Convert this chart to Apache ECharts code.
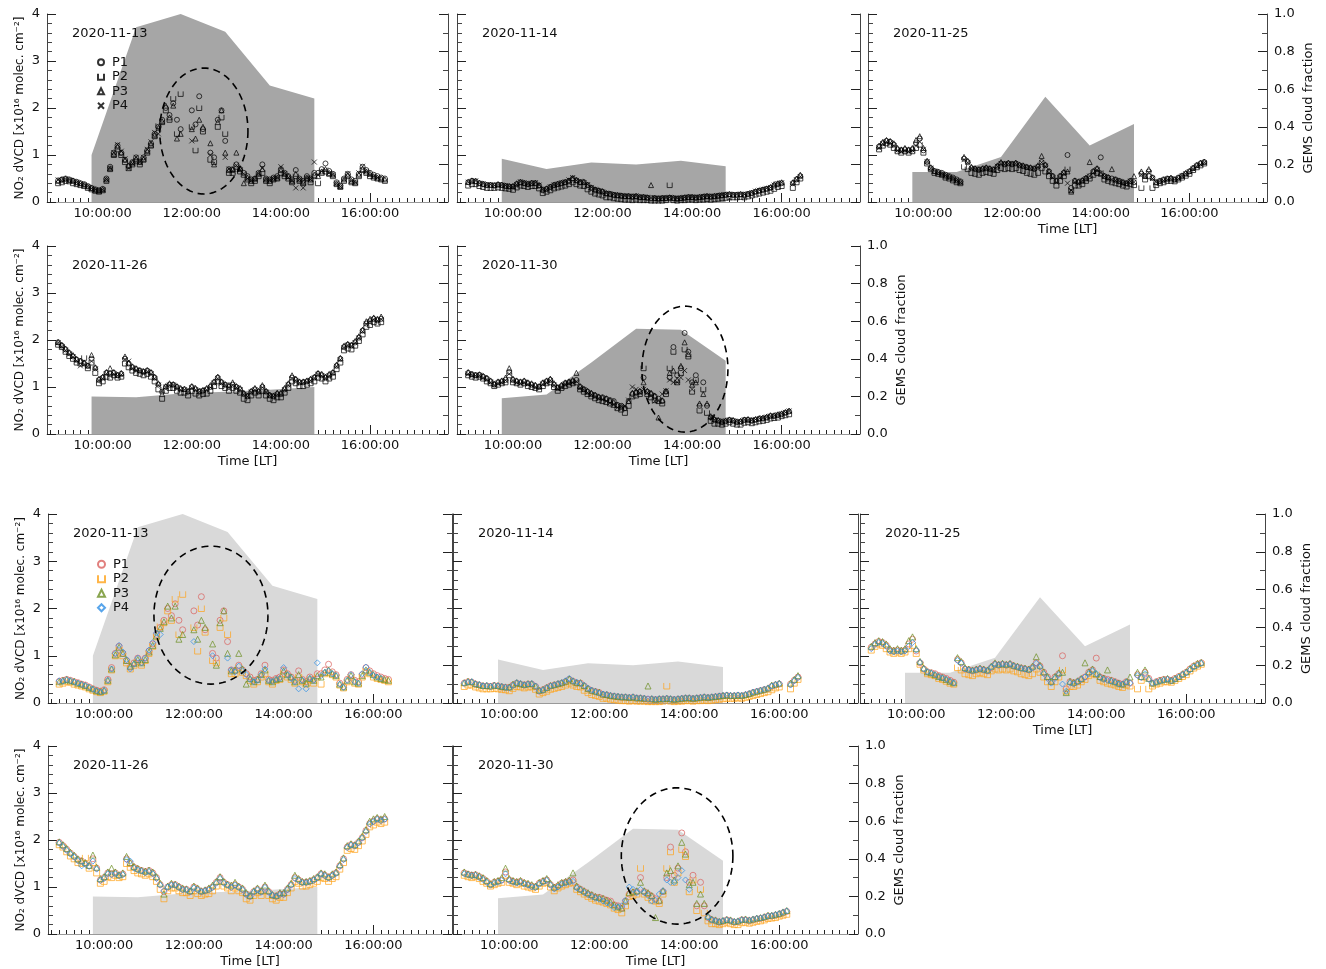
<!DOCTYPE html>
<html><head><meta charset="utf-8">
<script src="https://cdn.jsdelivr.net/npm/echarts@6/dist/echarts.min.js"></script>
<style>html,body{margin:0;padding:0;background:#fff}#c{width:1326px;height:969px}</style>
</head><body><div id="c"></div>
<script>
// ---------------- DATA ----------------
const DATES = ['2020-11-13','2020-11-14','2020-11-25','2020-11-26','2020-11-30'];
const SERIES_NAMES = ['P1','P2','P3','P4'];
const X_LABEL_HOURS = [10,12,14,16];
const X_MIN = 8.75, X_MAX = 17.75;
const STEP_H = 5/60;              // sampling step of the arrays (5 min)
const GEMS_TIMES = [9.75,10.75,11.75,12.75,13.75,14.75];

const CF_1113 = [0.25,0.93,1.00,0.905,0.62,0.55];
const CF_1114 = [0.23,0.175,0.21,0.20,0.22,0.19];
const CF_1125 = [0.16,0.16,0.24,0.56,0.30,0.415];
const CF_1126 = [0.20,0.195,0.215,0.225,0.235,0.25];
const CF_1130 = [0.19,0.21,0.38,0.56,0.555,0.39];

const START_1113 = 9.0, START_1114 = 9.0, START_1125 = 9.0, START_1126 = 9.0, START_1130 = 9.0;

const P1_1113 = [0.46,0.48,0.50,0.48,0.45,0.43,0.40,0.38,0.34,0.30,0.27,0.25,
0.28,0.50,0.75,1.05,1.20,1.05,0.90,0.76,0.85,0.95,0.86,0.95,
1.10,1.25,1.45,1.60,1.75,2.00,1.85,2.10,1.75,1.55,null,null,
1.95,1.65,2.25,1.55,null,1.05,0.95,1.75,1.95,1.30,0.70,0.68,
0.80,0.70,0.62,0.55,0.48,0.50,0.62,0.80,0.50,0.48,0.52,0.55,
0.70,0.62,0.55,0.48,0.68,0.50,0.45,0.55,0.50,0.62,0.62,0.70,
0.82,0.66,0.60,0.42,0.35,0.50,0.60,0.48,0.45,0.60,0.75,0.68,
0.62,0.58,0.55,0.52,0.50];
const P2_1113 = [0.40,0.42,0.45,0.44,0.40,0.38,0.36,0.34,0.30,0.27,0.24,0.22,
0.25,0.45,0.70,1.00,1.12,1.00,0.85,0.72,0.80,0.88,0.80,0.90,
1.05,1.20,1.40,1.62,1.70,1.95,1.75,2.20,1.45,2.30,null,null,
1.60,1.10,2.00,1.50,null,0.90,0.85,1.60,1.80,1.45,0.62,0.62,
0.75,0.65,0.58,0.48,0.40,0.45,0.55,0.62,0.45,0.40,0.48,0.50,
0.62,0.55,0.50,0.42,0.55,0.45,0.40,0.50,0.42,0.55,0.40,0.62,
0.65,0.60,0.55,0.38,0.32,0.45,0.55,0.42,0.40,0.55,0.68,0.62,
0.55,0.52,0.50,0.48,0.45];
const P3_1113 = [0.45,0.48,0.50,0.47,0.46,0.42,0.40,0.37,0.33,0.30,0.26,0.24,
0.27,0.48,0.72,1.02,1.18,1.05,0.90,0.78,0.84,0.92,0.85,0.92,
1.08,1.22,1.42,1.58,1.72,2.05,1.80,2.05,1.35,1.45,null,null,
1.55,1.35,1.75,1.60,null,1.25,0.80,1.70,1.95,1.05,0.68,0.70,
1.05,0.72,0.40,0.52,0.45,0.50,0.60,0.70,0.48,0.45,0.50,0.52,
0.68,0.60,0.55,0.45,0.60,0.48,0.42,0.52,0.48,0.58,0.55,0.65,
0.70,0.62,0.58,0.40,0.34,0.48,0.58,0.45,0.42,0.58,0.70,0.65,
0.60,0.55,0.52,0.50,0.48];
const P4_1113 = [0.47,0.46,0.49,0.47,0.44,0.42,0.39,0.37,0.33,0.29,0.26,0.23,
0.26,0.48,0.72,1.05,1.22,1.08,0.92,0.72,0.82,0.95,0.85,0.95,
1.12,1.28,1.48,1.45,null,null,null,null,null,null,null,null,
1.30,null,null,null,null,1.00,null,null,null,0.95,0.70,0.66,
0.78,0.68,0.60,0.50,0.45,0.48,0.60,0.72,0.48,0.46,0.50,0.52,
0.75,0.60,0.52,0.45,0.30,0.48,0.30,0.52,0.48,0.85,0.58,0.65,
0.68,0.62,0.58,0.40,0.33,0.48,0.60,0.45,0.42,0.62,0.76,0.65,
0.58,0.55,0.52,null,null];

const P1_1114 = [0.42,0.45,0.44,0.40,0.38,0.36,0.36,0.35,0.37,0.36,0.34,0.33,
0.33,0.38,0.42,0.40,0.38,0.40,0.40,0.35,0.25,0.28,0.32,0.36,
0.38,0.40,0.42,0.45,0.50,0.46,0.42,0.42,0.36,0.30,0.26,0.24,
0.22,0.18,0.17,0.15,0.14,0.13,0.12,0.12,0.11,0.12,0.10,0.10,
0.09,0.08,0.08,0.07,0.08,0.08,0.09,0.08,0.07,0.08,0.09,0.10,
0.10,0.09,0.10,0.11,0.12,0.11,0.12,0.13,0.14,0.15,0.16,0.15,
0.15,0.16,0.15,0.17,0.19,0.22,0.24,0.26,0.28,0.30,0.35,0.38,
0.40,null,null,0.40,0.48,0.55];
const P2_1114 = [0.35,0.38,0.38,0.34,0.32,0.30,0.30,0.30,0.31,0.30,0.29,0.28,
0.26,0.31,0.35,0.34,0.32,0.34,0.34,0.29,0.19,0.22,0.25,0.29,
0.31,0.33,0.35,0.38,0.42,0.38,0.35,0.34,0.27,0.22,0.18,0.16,
0.14,0.10,0.10,0.08,0.07,0.06,0.05,0.05,0.04,0.05,0.04,0.04,
0.04,0.03,0.03,0.03,0.03,0.04,0.36,0.04,0.03,0.04,0.04,0.05,
0.05,0.04,0.05,0.05,0.06,0.05,0.06,0.07,0.08,0.09,0.10,0.10,
0.10,0.11,0.10,0.12,0.14,0.16,0.18,0.20,0.22,0.24,0.28,0.32,
0.34,null,null,0.30,0.42,0.50];
const P3_1114 = [0.43,0.46,0.45,0.41,0.39,0.37,0.37,0.36,0.38,0.37,0.35,0.34,
0.34,0.40,0.43,0.41,0.39,0.41,0.41,0.36,0.27,0.29,0.33,0.37,
0.39,0.41,0.43,0.46,0.51,0.47,0.43,0.43,0.37,0.31,0.27,0.25,
0.23,0.19,0.18,0.16,0.15,0.14,0.13,0.13,0.12,0.13,0.11,0.11,
0.10,0.36,0.09,0.08,0.09,0.09,0.10,0.09,0.08,0.09,0.10,0.11,
0.11,0.10,0.11,0.12,0.13,0.12,0.13,0.14,0.15,0.16,0.17,0.16,
0.16,0.17,0.16,0.18,0.20,0.23,0.25,0.27,0.29,0.32,0.38,0.40,
0.42,null,null,0.42,0.50,0.58];
const P4_1114 = [0.42,0.44,0.45,0.40,0.39,0.36,0.37,0.35,0.37,0.36,0.35,0.33,
0.32,0.37,0.43,0.41,0.38,0.40,0.41,0.36,0.26,0.27,0.32,0.36,
0.38,0.41,0.43,0.47,0.52,0.46,0.44,0.41,0.37,0.31,0.27,0.24,
0.21,0.19,0.18,0.16,0.15,0.14,0.13,0.13,0.12,0.13,0.11,0.11,
0.10,0.09,0.09,0.08,0.09,0.09,0.10,0.09,0.08,0.09,0.10,0.11,
0.11,0.10,0.11,0.12,0.13,0.12,0.13,0.14,0.15,0.16,0.17,0.16,
0.16,0.17,0.16,0.18,0.20,0.23,0.25,0.27,0.29,0.31,0.36,0.39,
0.41,null,null,0.38,0.47,0.54];

const P1_1125 = [1.18,1.25,1.30,1.28,1.22,1.12,1.10,1.12,1.10,1.12,1.25,1.35,
1.10,0.85,0.72,0.66,0.64,0.62,0.58,0.55,0.52,0.48,0.44,0.92,
0.85,0.72,0.70,0.68,0.70,0.72,0.70,0.68,0.75,0.82,0.80,0.82,
0.80,0.82,0.78,0.76,0.74,0.72,0.70,0.75,0.85,0.78,0.65,0.55,
0.45,0.55,0.62,1.00,0.30,0.45,0.42,0.45,0.50,0.55,0.65,0.70,
0.95,0.55,0.52,0.50,0.48,0.45,0.42,0.40,0.45,0.42,null,0.60,
0.55,0.65,0.52,0.42,0.45,0.48,0.50,0.50,0.48,0.52,0.56,0.60,
0.65,0.72,0.78,0.82,0.85];
const P2_1125 = [1.12,1.20,1.25,1.22,1.15,1.08,1.05,1.08,1.05,1.08,1.15,1.22,
1.05,0.82,0.70,0.62,0.60,0.58,0.52,0.50,0.46,0.42,0.40,0.75,
0.70,0.62,0.60,0.58,0.62,0.64,0.62,0.60,0.68,0.72,0.70,0.72,
0.70,0.72,0.68,0.66,0.62,0.60,0.58,0.62,0.72,0.65,0.55,0.45,
0.35,0.45,0.55,0.70,0.25,0.35,0.35,0.38,0.45,0.50,0.58,0.62,
0.60,0.48,0.45,0.42,0.40,0.38,0.35,0.33,0.38,0.36,null,0.30,
0.48,0.55,0.30,0.36,0.40,0.42,0.45,0.45,0.44,0.48,0.52,0.56,
0.60,0.68,0.74,0.78,0.82];
const P3_1125 = [1.20,1.28,1.32,1.30,1.25,1.15,1.12,1.15,1.12,1.15,1.32,1.40,
1.15,0.88,0.74,0.66,0.64,0.60,0.56,0.54,0.50,0.46,0.43,0.96,
0.88,0.75,0.72,0.70,0.72,0.74,0.72,0.70,0.78,0.85,0.82,0.84,
0.82,0.84,0.80,0.78,0.75,0.74,0.72,0.78,0.98,0.80,0.66,0.56,
0.46,0.56,0.64,0.65,0.22,0.46,0.44,0.47,0.52,0.85,0.66,0.72,
0.62,0.56,0.53,0.70,0.48,0.45,0.42,0.40,0.45,0.55,null,0.65,
0.56,0.70,0.52,0.42,0.45,0.48,0.50,0.52,0.48,0.52,0.56,0.62,
0.66,0.73,0.79,0.84,0.86];
const P4_1125 = [1.15,1.24,1.28,1.26,1.20,1.10,1.08,1.10,1.08,1.10,1.20,1.28,
1.12,0.86,0.72,0.66,0.63,0.60,0.56,0.53,0.50,0.46,0.42,0.90,
0.84,0.72,0.70,0.68,0.70,0.72,0.70,0.68,0.76,0.82,0.80,0.82,
0.80,0.82,0.78,0.76,0.73,0.72,0.70,0.74,0.84,0.76,0.62,0.52,
0.42,0.52,0.60,0.40,0.25,0.42,0.40,0.45,0.50,0.55,0.62,0.68,
0.62,0.54,0.50,0.48,0.46,0.44,0.40,0.40,0.44,0.42,null,0.58,
0.54,0.62,0.50,0.42,0.44,0.46,0.48,0.50,0.47,0.50,0.55,0.60,
0.64,0.70,0.76,0.80,0.84];

const P1_1126 = [1.95,1.88,1.80,1.72,1.65,1.58,1.55,1.50,1.45,1.60,1.40,1.15,
1.20,1.30,1.28,1.30,1.25,1.28,1.60,1.50,1.42,1.38,1.35,1.32,
1.35,1.30,1.20,1.05,0.90,1.00,1.05,1.05,1.00,0.95,0.95,0.90,
1.00,0.95,0.90,0.92,0.95,1.00,1.10,1.20,1.10,1.05,1.00,1.05,
1.00,0.95,0.85,0.80,0.90,0.95,0.90,1.00,0.90,0.82,0.80,0.85,
0.85,0.95,1.05,1.20,1.15,1.10,1.10,1.12,1.15,1.20,1.28,1.25,
1.20,1.25,1.30,1.45,1.60,1.85,1.90,1.88,1.95,2.05,2.20,2.35,
2.40,2.45,2.42,2.45];
const P2_1126 = [1.90,1.85,1.75,1.66,1.60,1.52,1.50,1.62,1.40,1.52,1.30,1.08,
1.12,1.22,1.20,1.25,1.20,1.22,1.50,1.42,1.35,1.30,1.28,1.25,
1.28,1.22,1.12,0.95,0.75,0.92,0.98,0.98,0.92,0.88,0.88,0.82,
0.92,0.86,0.82,0.85,0.86,0.92,1.02,1.12,1.02,0.98,0.92,0.98,
0.92,0.88,0.75,0.72,0.82,0.88,0.82,0.92,0.82,0.75,0.72,0.78,
0.78,0.88,0.98,1.12,1.08,1.02,1.02,1.05,1.08,1.12,1.20,1.18,
1.12,1.18,1.22,1.38,1.52,1.78,1.82,1.80,1.88,1.98,2.12,2.28,
2.32,2.38,2.35,2.38];
const P3_1126 = [1.96,1.90,1.82,1.74,1.68,1.60,1.56,1.52,1.46,1.68,1.42,1.18,
1.22,1.32,1.40,1.32,1.26,1.30,1.65,1.52,1.44,1.40,1.36,1.34,
1.36,1.32,1.22,1.08,0.85,1.02,1.08,1.06,1.02,0.98,0.96,0.92,
1.02,0.98,0.92,0.94,0.98,1.04,1.12,1.22,1.12,1.06,1.04,1.10,
1.02,0.98,0.88,0.82,0.92,0.98,0.92,1.04,0.92,0.84,0.82,0.88,
0.88,0.98,1.08,1.25,1.18,1.12,1.12,1.14,1.18,1.22,1.30,1.28,
1.22,1.28,1.32,1.48,1.62,1.88,1.92,1.90,1.98,2.08,2.22,2.40,
2.45,2.48,2.45,2.50];
const P4_1126 = [1.94,1.86,1.78,1.70,1.64,1.56,1.45,1.48,1.44,1.55,1.38,1.14,
1.18,1.28,1.26,1.28,1.24,1.26,1.58,1.55,1.40,1.36,1.34,1.30,
1.33,1.28,1.18,1.04,0.92,1.00,1.04,1.04,0.99,0.94,0.94,0.90,
0.98,0.94,0.90,0.92,0.94,0.99,1.08,1.18,1.08,1.04,0.99,1.04,
0.99,0.94,0.84,0.80,0.89,0.94,0.89,0.99,0.89,0.82,0.80,0.84,
0.84,0.94,1.04,1.18,1.14,1.09,1.09,1.11,1.14,1.19,1.27,1.24,
1.19,1.24,1.29,1.44,1.58,1.84,1.89,1.87,1.94,2.04,2.18,2.34,
2.39,2.44,2.41,2.44];

const P1_1130 = [1.30,1.27,1.25,1.26,1.22,1.18,1.12,1.05,1.10,1.12,1.15,1.32,
1.15,1.12,1.10,1.12,1.08,1.05,1.02,1.00,1.08,1.12,1.15,1.05,
0.98,1.02,1.08,1.10,1.12,1.15,1.00,0.95,0.90,0.85,0.82,0.78,
0.78,0.75,0.72,0.70,0.62,0.60,0.55,0.70,0.85,0.88,0.90,1.20,
0.90,0.85,0.80,0.75,0.70,0.90,1.20,1.85,1.25,1.40,2.15,1.75,
1.10,1.25,0.60,1.10,0.60,0.35,0.30,0.28,0.25,0.27,0.30,0.28,
0.25,0.26,0.30,0.30,0.28,0.30,0.32,0.33,0.35,0.38,0.38,0.40,
0.42,0.45,0.48];
const P2_1130 = [1.25,1.22,1.20,1.22,1.18,1.12,1.08,1.02,1.05,1.08,1.10,1.25,
1.10,1.08,1.05,1.08,1.02,1.00,0.98,0.95,1.02,1.08,1.10,1.00,
0.92,0.98,1.02,1.05,1.08,1.10,0.95,0.90,0.85,0.80,0.76,0.72,
0.70,0.68,0.65,0.62,0.55,0.52,0.45,0.60,0.80,0.82,0.85,1.40,
0.85,0.78,0.72,0.70,0.65,0.85,1.40,1.75,1.10,1.30,1.80,1.65,
0.90,1.15,0.50,0.95,0.45,0.28,0.22,0.22,0.20,0.22,0.25,0.22,
0.20,0.20,0.24,0.25,0.23,0.25,0.27,0.28,0.30,0.33,0.34,0.35,
0.38,0.40,0.42];
const P3_1130 = [1.32,1.28,1.26,1.27,1.24,1.20,1.14,1.07,1.12,1.14,1.20,1.40,
1.18,1.14,1.12,1.14,1.10,1.08,1.05,1.02,1.10,1.14,1.18,1.08,
1.00,1.05,1.10,1.12,1.15,1.30,1.02,0.96,0.92,0.88,0.84,0.80,
0.78,0.76,0.72,0.68,0.62,0.58,0.55,0.70,0.88,0.90,0.92,1.10,
0.92,0.88,0.82,0.35,0.72,0.92,1.30,1.35,1.15,1.45,1.95,1.70,
1.05,1.10,0.65,0.85,0.65,0.38,0.32,0.30,0.27,0.29,0.31,0.30,
0.27,0.28,0.31,0.32,0.30,0.32,0.34,0.35,0.37,0.40,0.40,0.42,
0.44,0.47,0.50];
const P4_1130 = [1.28,1.26,1.24,1.25,1.20,1.16,1.10,1.04,1.08,1.10,1.14,1.28,
1.14,1.10,1.08,1.10,1.06,1.04,1.00,0.99,1.06,1.10,1.14,1.04,
0.96,1.00,1.06,1.08,1.10,1.12,0.98,0.94,0.88,0.84,0.80,0.76,
0.74,0.70,0.66,0.62,0.56,0.58,0.60,0.72,1.00,0.95,0.88,0.95,
0.88,0.82,0.70,0.72,0.85,0.92,1.15,1.10,1.10,1.20,1.35,1.15,
0.95,null,null,null,null,0.36,0.30,0.28,0.26,0.28,0.30,0.28,
0.26,0.27,0.30,0.30,0.29,0.31,0.33,0.34,0.36,0.38,0.39,0.41,
0.43,0.46,0.49];

// dashed ellipses: [centre time (h), centre NO2, half-width (h), half-height (NO2)]
const ELLIPSE_BW_1113 = [12.27, 1.51, 0.99, 1.34];
const ELLIPSE_BW_1130 = [13.84, 1.38, 0.96, 1.34];
const ELLIPSE_COL_1113 = [12.38, 1.86, 1.27, 1.46];
const ELLIPSE_COL_1130 = [13.73, 1.66, 1.24, 1.45];

// ---------------- BUILD ----------------
const DAY = [
  {start: START_1113, P: [P1_1113,P2_1113,P3_1113,P4_1113], cf: CF_1113},
  {start: START_1114, P: [P1_1114,P2_1114,P3_1114,P4_1114], cf: CF_1114},
  {start: START_1125, P: [P1_1125,P2_1125,P3_1125,P4_1125], cf: CF_1125},
  {start: START_1126, P: [P1_1126,P2_1126,P3_1126,P4_1126], cf: CF_1126},
  {start: START_1130, P: [P1_1130,P2_1130,P3_1130,P4_1130], cf: CF_1130}
];
const OPEN_SQ = 'path://M0,0L0,10L10,10L10,0';
const CROSS = 'path://M0,0L10,10M10,0L0,10';
const BLOCKS = [
  { id:'a', cfColor:'#a6a6a6', colors:['#000','#000','#000','#000'],
    symbols:['circle',OPEN_SQ,'triangle',CROSS], size:5, legendTop:50,
    ellipses:{0:ELLIPSE_BW_1113, 4:ELLIPSE_BW_1130},
    panels:[
      {day:0,left:47,top:14,width:401,height:188},
      {day:1,left:457,top:14,width:403,height:188},
      {day:2,left:868,top:14,width:399,height:188},
      {day:3,left:47,top:246,width:401,height:188},
      {day:4,left:457,top:246,width:403,height:188}] },
  { id:'b', cfColor:'#d9d9d9', colors:['#d9605e','#ffa31a','#6b8e23','#2e8fe6'],
    symbols:['circle',OPEN_SQ,'triangle','diamond'], size:6, legendTop:552,
    ellipses:{0:ELLIPSE_COL_1113, 4:ELLIPSE_COL_1130},
    panels:[
      {day:0,left:48,top:514,width:404,height:189},
      {day:1,left:453,top:514,width:405,height:189},
      {day:2,left:860,top:514,width:405,height:189},
      {day:3,left:48,top:746,width:404,height:190},
      {day:4,left:453,top:746,width:405,height:190}] }
];
// panel roles
const LEFT_LABELS = [true,false,false,true,false];
const RIGHT_LABELS = [false,false,true,false,true];
const X_NAME = [false,false,true,true,true];

const MINOR_X = [];
for (let m = 8*60+50; m <= 17*60+40; m += 10) MINOR_X.push(m/60);

const FONT = 'DejaVu Sans';
const grid=[], xAxis=[], yAxis=[], series=[], graphic=[], legend=[];
let k = 0;
BLOCKS.forEach(b => {
  b.panels.forEach((p, pi) => {
    const d = DAY[p.day];
    grid.push({left:p.left, top:p.top, width:p.width, height:p.height});
    const xi = xAxis.length, yi = yAxis.length;
    xAxis.push({type:'value', gridIndex:k, min:X_MIN, max:X_MAX,
      axisLine:{show:true, lineStyle:{color:'#999', width:1}},
      axisTick:{show:true, inside:true, length:4, customValues:MINOR_X, lineStyle:{color:'#222'}},
      axisLabel:{show:true, customValues:X_LABEL_HOURS, margin:5, fontSize:13, color:'#111', fontFamily:FONT,
        formatter: v => String(Math.round(v)).padStart(2,'0') + ':00:00'},
      splitLine:{show:false},
      name: X_NAME[pi] ? 'Time [LT]' : '', nameLocation:'middle', nameGap:21,
      nameTextStyle:{fontSize:13, color:'#111', fontFamily:FONT}});
    xAxis.push({type:'value', gridIndex:k, min:X_MIN, max:X_MAX, position:'bottom',
      axisLine:{show:false},
      axisTick:{show:true, inside:true, length:9, customValues:X_LABEL_HOURS, lineStyle:{color:'#222'}},
      axisLabel:{show:false}, splitLine:{show:false}});
    yAxis.push({type:'value', gridIndex:k, position:'left', min:0, max:4, interval:1,
      axisLine:{show:true, lineStyle:{color:'#444'}},
      axisTick:{show:true, inside:true, length:9, lineStyle:{color:'#222'}},
      minorTick:{show:true, splitNumber:5, length:5, lineStyle:{color:'#444'}},
      axisLabel:{show:LEFT_LABELS[pi], fontSize:13, color:'#111', margin:7, fontFamily:FONT},
      splitLine:{show:false},
      name: LEFT_LABELS[pi] ? 'NO\u2082 dVCD [x10\u00b9\u2076 molec. cm\u207b\u00b2]' : '',
      nameLocation:'middle', nameGap:21, nameRotate:90,
      nameTextStyle:{fontSize:12, color:'#111', fontFamily:FONT}});
    yAxis.push({type:'value', gridIndex:k, position:'right', min:0, max:1, interval:0.2,
      axisLine:{show:true, lineStyle:{color:'#444'}},
      axisTick:{show:true, inside:true, length:9, lineStyle:{color:'#222'}},
      minorTick:{show:true, splitNumber:2, length:5, lineStyle:{color:'#444'}},
      axisLabel:{show:RIGHT_LABELS[pi], fontSize:13, color:'#111', margin:7, fontFamily:FONT,
        formatter: v => v.toFixed(1)},
      splitLine:{show:false},
      name: RIGHT_LABELS[pi] ? 'GEMS cloud fraction' : '',
      nameLocation:'middle', nameGap:35, nameRotate:90,
      nameTextStyle:{fontSize:13, color:'#111', fontFamily:FONT}});
    // cloud fraction area
    series.push({type:'line', xAxisIndex:xi, yAxisIndex:yi+1, silent:true, z:1,
      data: GEMS_TIMES.map((t,i) => [t, d.cf[i]]), symbol:'none',
      lineStyle:{width:0}, areaStyle:{color:b.cfColor, opacity:1}});
    // P1..P4 scatter
    d.P.forEach((arr, j) => {
      const pts = [];
      arr.forEach((v, i) => { if (v !== null) pts.push([d.start + i*STEP_H, v]); });
      series.push({type:'scatter', name: SERIES_NAMES[j] + '_' + b.id, xAxisIndex:xi, yAxisIndex:yi,
        data: pts, symbol: b.symbols[j], symbolSize: b.size, z:3, silent:true,
        itemStyle:{color:'rgba(0,0,0,0)', borderColor:b.colors[j], borderWidth:0.9}});
    });
    // dashed ellipse
    const e = b.ellipses[pi];
    if (e) {
      series.push({type:'custom', xAxisIndex:xi, yAxisIndex:yi, z:5, silent:true, data:[e],
        renderItem: (params, api) => {
          const c = api.coord([api.value(0), api.value(1)]);
          const ex = api.coord([api.value(0) + api.value(2), api.value(1)]);
          const ey = api.coord([api.value(0), api.value(1) + api.value(3)]);
          const rx = Math.abs(ex[0]-c[0]), ry = Math.abs(c[1]-ey[1]);
          const pts = [];
          for (let a = 0; a <= 120; a++) { const th = a/120*2*Math.PI; pts.push([c[0]+rx*Math.cos(th), c[1]+ry*Math.sin(th)]); }
          return {type:'polyline', shape:{points:pts}, style:{stroke:'#000', lineWidth:1.6, lineDash:[7,5], fill:null}};
        }});
    }
    graphic.push({type:'text', z:100, zlevel:0, left:p.left+25, top:p.top+13,
      style:{text:DATES[p.day], font:'13px "DejaVu Sans"', fill:'#111'}});
    k++;
  });
  legend.push({orient:'vertical', left:92, top:b.legendTop, selectedMode:false, z:20,
    data: SERIES_NAMES.map(n => n + '_' + b.id), formatter: n => n.split('_')[0],
    itemWidth:b.size+1, itemHeight:b.size+1, itemGap:0,
    textStyle:{fontSize:13, color:'#111', lineHeight:14.5, fontFamily:FONT, padding:[0,0,0,3]}});
});

const chart = echarts.init(document.getElementById('c'), null, {renderer:'canvas'});
chart.setOption({animation:false, backgroundColor:'#fff', textStyle:{fontFamily:FONT},
  grid, xAxis, yAxis, series, graphic, legend});
</script></body></html>
